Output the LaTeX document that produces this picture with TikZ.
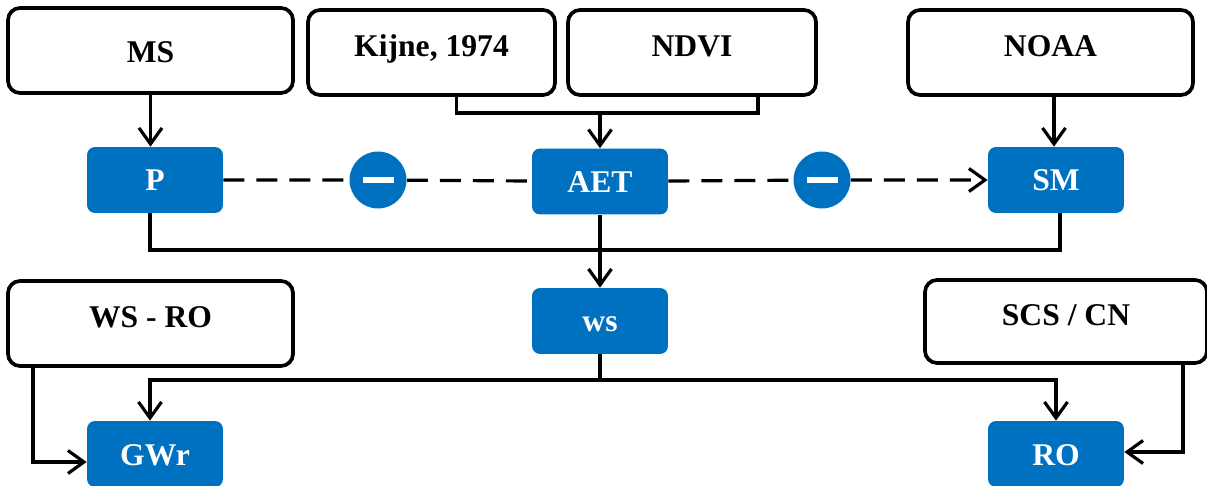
\documentclass[tikz,border=0pt]{standalone}
\usepackage{fontspec}
\setmainfont{Liberation Serif}
\usetikzlibrary{arrows.meta, positioning}
\definecolor{varblue}{HTML}{0070C0}
\tikzset{
  % white source box
  srcbox/.style={draw=black, line width=2.1pt, rounded corners=0.24cm, fill=white,
    minimum height=1.7cm, inner sep=0pt, text height=0.5cm, text depth=0.34cm,
    font=\fontsize{18}{20}\selectfont\bfseries},
  % blue variable box
  varbox/.style={fill=varblue, rounded corners=0.16cm, text=white,
    minimum width=2.72cm, minimum height=1.32cm, inner sep=0pt,
    text height=0.44cm, text depth=0cm, font=\fontsize{18}{20}\selectfont\bfseries},
  % negative relation sign
  minusdot/.style={circle, fill=varblue, minimum size=1.14cm, inner sep=0pt, text=white},
  % connectors
  conn/.style={line width=1.8pt, black},
  arr/.style={conn, -{Straight Barb[length=3.2mm, width=4.6mm]}},
  dashln/.style={conn, dash pattern=on 0.42cm off 0.24cm},
}
\begin{document}
\begin{tikzpicture}[x=0.02cm, y=-0.02cm]
  \useasboundingbox (0,0) rectangle (1207,486);
  % sources (top row)
  \node[srcbox, minimum width=5.7cm, text depth=0cm] (ms) at (150.5,50.5) {MS};
  \node[srcbox, minimum width=4.94cm] (kijne) at (431.5,52.5) {Kijne, 1974};
  \node[srcbox, minimum width=4.96cm] (ndvi) at (692,52.5) {NDVI};
  \node[srcbox, minimum width=5.7cm] (noaa) at (1050.5,52.5) {NOAA};
  % variables
  \node[varbox] (p) at (155,180) {P};
  \node[varbox] (aet) at (600,181.5) {AET};
  \node[varbox] (sm) at (1056,180) {SM};
  \node[varbox] (ws) at (600,321) {ws};
  \node[varbox] (gwr) at (155,454) {GWr};
  \node[varbox] (ro) at (1056,454) {RO};
  % sources (bottom row)
  \node[srcbox, minimum width=5.7cm] (wsro) at (150.5,323.5) {WS - RO};
  \node[srcbox, minimum width=5.64cm, minimum height=1.66cm] (scs) at (1066,321.5) {SCS / CN};
  % junctions
  \coordinate (jtop) at (600,113);
  \coordinate (jmid) at (600,250);
  \coordinate (jlow) at (600,380);
  % minus signs
  \node[minusdot] (m1) at (378,180) {\rule{0.62cm}{0.11cm}};
  \node[minusdot] (m2) at (822,180) {\rule{0.62cm}{0.11cm}};
  % connectors
  \draw[arr] (ms) -- (ms |- p.north);
  \draw[conn] ([xshift=0.5cm]kijne.south) |- (jtop) -| ([xshift=1.32cm]ndvi.south);
  \draw[arr] (jtop) -- (aet);
  \draw[arr] ([xshift=0.07cm]noaa.south) -- ([xshift=0.07cm]noaa.south |- sm.north);
  \draw[dashln] (p) -- (m1) -- (aet);
  \draw[dashln, arr] (aet) -- (m2) -- (sm);
  \draw[conn] ([xshift=-0.1cm]p.south) |- (jmid) -| ([xshift=0.08cm]sm.south);
  \draw[arr] (aet) -- (ws);
  \draw[conn] (ws) -- (jlow);
  \draw[arr] (jlow) -| ([xshift=-0.1cm]gwr.north);
  \draw[arr] (jlow) -| (ro);
  \draw[arr] ([xshift=-2.35cm]wsro.south) |- ([yshift=-0.16cm]gwr.west);
  \draw[arr] ([xshift=2.34cm]scs.south) |- ([yshift=0.04cm]ro.east);
\end{tikzpicture}
\end{document}
